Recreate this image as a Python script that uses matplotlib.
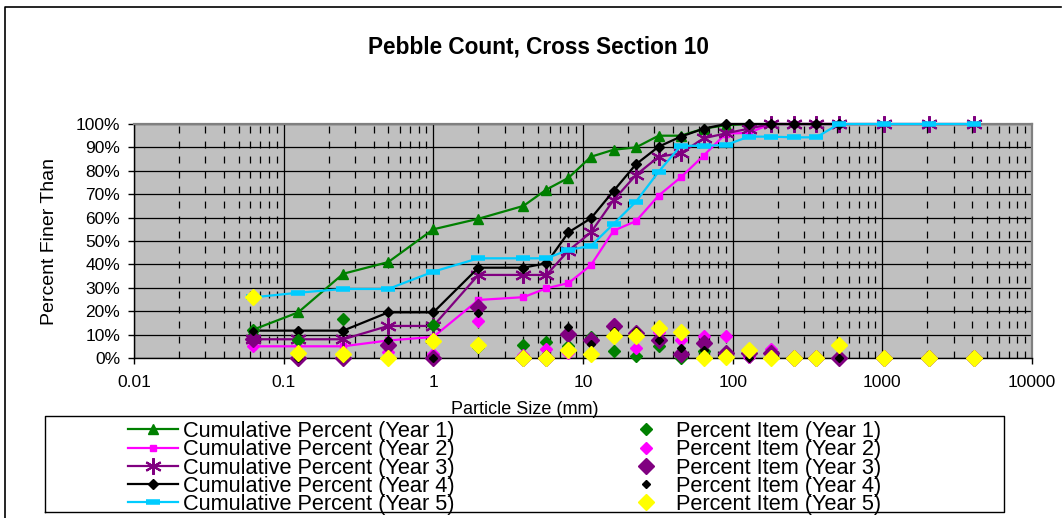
import matplotlib
matplotlib.use("Agg")
import matplotlib.pyplot as plt
from matplotlib.ticker import LogLocator, FixedLocator, FixedFormatter, PercentFormatter, NullFormatter
from matplotlib.lines import Line2D

plt.rcParams['font.family'] = ['Liberation Sans', 'DejaVu Sans']
plt.rcParams['lines.scale_dashes'] = False

# Sieve sizes (mm)
sizes = [0.062, 0.125, 0.25, 0.5, 1, 2, 4, 5.7, 8, 11.3, 16, 22.6, 32, 45, 64,
         90, 128, 180, 256, 362, 512, 1024, 2048, 4096]

# Cumulative percent finer, per survey year
cum_y1 = [12, 19.5, 36, 41, 55, 59.5, 65, 72, 77, 86, 89, 90, 95, 95, 98, 99.5, 100]
cum_y2 = [5, 5, 5, 7.5, 9, 24.8, 26, 29.8, 32, 39.7, 54.4, 58.5, 69.4, 77.2, 86.5,
          95.9, 96.2, 100, 100, 100, 100]
cum_y3 = [8, 8, 8, 13.7, 13.7, 35.5, 35.5, 35.5, 45.9, 53.7, 67.5, 78.2, 86, 87.5,
          93.9, 96, 98, 100, 100, 100, 100, 100, 100, 100]
cum_y4 = [11.7, 11.7, 11.7, 19.5, 19.5, 38.6, 38.6, 40.5, 53.7, 59.7, 71.4, 82.8,
          90.3, 94.6, 98, 100, 100, 100, 100, 100, 100]
cum_y5 = [25.9, 27.9, 29.5, 29.5, 36.9, 42.6, 42.6, 42.6, 46.2, 47.9, 57.3, 66.8,
          79.6, 90.7, 90.7, 91, 94.6, 94.6, 94.3, 94.3, 100, 100, 100, 100]

# Percent of the count in each size class
item_y1 = [12, 7.5, 16.5, 5, 14, 4.5, 5.5, 7, 5, 9, 3, 1, 5, 0, 3, 1.5, 0.5]
item_y2 = [5, 0, 0, 2.5, 1.5, 15.8, 1.2, 3.8, 2.2, 7.7, 14.7, 4.1, 10.9, 7.8, 9.3,
           9.4, 0.3, 3.8, 0, 0, 0]
item_y3 = [8, 0, 0, 5.7, 0, 21.8, 0, 0, 10.4, 7.8, 13.8, 10.7, 7.8, 1.5, 6.4, 2.1,
           2, 2, 0, 0, 0, 0, 0, 0]
item_y4 = [11.7, 0, 0, 7.8, 0, 19.1, 0, 1.9, 13.2, 6, 11.7, 11.4, 7.5, 4.3, 3.4, 2,
           0, 0, 0, 0, 0]
item_y5 = [25.9, 2, 1.6, 0, 7.4, 5.7, 0, 0, 3.6, 1.7, 9.4, 9.5, 12.8, 11.1, 0, 0.3,
           3.6, 0, 0, 0, 5.7, 0, 0, 0]

x_ticks = [0.01, 0.1, 1, 10, 100, 1000, 10000]
x_tick_labels = ["0.01", "0.1", "1", "10", "100", "1000", "10000"]
y_ticks = list(range(0, 101, 10))

W, H = 1062, 518
fig = plt.figure(figsize=(W / 100, H / 100), dpi=100)
fig.patch.set_facecolor("white")

# outer chart border
fig.add_artist(Line2D([5 / W, 5 / W, 1061 / W],
                      [-0.05, 1 - 7 / H, 1 - 7 / H],
                      transform=fig.transFigure, color="black", lw=1.2))

left, right, top, bottom = 134, 1032, 124, 358
ax = fig.add_axes([left / W, 1 - bottom / H, (right - left) / W, (bottom - top) / H])
ax.set_facecolor("#C0C0C0")
ax.set_xscale("log")
ax.set_xlim(0.01, 10000)
ax.set_ylim(0, 100)

ax.xaxis.set_major_locator(FixedLocator(x_ticks))
ax.xaxis.set_major_formatter(FixedFormatter(x_tick_labels))
ax.xaxis.set_minor_locator(LogLocator(base=10, subs=range(2, 10), numticks=100))
ax.xaxis.set_minor_formatter(NullFormatter())
ax.yaxis.set_major_locator(FixedLocator(y_ticks))
ax.yaxis.set_major_formatter(PercentFormatter(decimals=0))

ax.tick_params(axis="both", which="major", direction="out", length=4, width=1,
               color="black", labelsize=12.5, labelcolor="black")
ax.tick_params(axis="y", pad=6)
ax.tick_params(axis="x", pad=8)
ax.tick_params(axis="x", which="minor", length=0)
ax.tick_params(top=False, right=False)

ax.set_axisbelow(True)
ax.grid(which="major", axis="both", color="black", lw=0.9, ls="-")
ax.grid(which="minor", axis="x", color="black", lw=0.9, ls=(0, (5, 5.8)))

for s in ("left", "bottom"):
    ax.spines[s].set_color("black")
    ax.spines[s].set_linewidth(1)
for s in ("top", "right"):
    ax.spines[s].set_color("#808080")
    ax.spines[s].set_linewidth(1.6)

green, magenta, purple, cyan, yellow = "#008000", "#FF00FF", "#800080", "#00CCFF", "#FFFF00"
asterisk = (6, 2, 0)

line_specs = [
    (cum_y1, dict(color=green, marker="^", ms=7, mec=green, mfc=green), "Cumulative Percent (Year 1)"),
    (cum_y2, dict(color=magenta, marker="s", ms=5, mec=magenta, mfc=magenta), "Cumulative Percent (Year 2)"),
    (cum_y3, dict(color=purple, marker=asterisk, ms=12, mew=1.5, mec=purple), "Cumulative Percent (Year 3)"),
    (cum_y4, dict(color="black", marker="D", ms=5, mec="black", mfc="black"), "Cumulative Percent (Year 4)"),
    (cum_y5, dict(color=cyan, marker="_", ms=10, mew=4, mec=cyan), "Cumulative Percent (Year 5)"),
]
line_handles = []
for vals, style, lab in line_specs:
    h, = ax.plot(sizes[:len(vals)], vals, lw=1.6, clip_on=False, zorder=3, label=lab, **style)
    line_handles.append(h)

item_specs = [
    (item_y1, green, 6.5, "Percent Item (Year 1)"),
    (item_y2, magenta, 6.5, "Percent Item (Year 2)"),
    (item_y3, purple, 8, "Percent Item (Year 3)"),
    (item_y4, "black", 4.5, "Percent Item (Year 4)"),
    (item_y5, yellow, 8.5, "Percent Item (Year 5)"),
]
item_handles = []
for vals, col, ms, lab in item_specs:
    h, = ax.plot(sizes[:len(vals)], vals, ls="none", marker="D", ms=ms, mfc=col,
                 mec=col, clip_on=False, zorder=4, label=lab)
    item_handles.append(h)

fig.text(538 / W, 1 - 47 / H, "Pebble Count, Cross Section 10", ha="center", va="center",
         fontsize=16.3, fontweight="bold")
fig.text(50 / W, 1 - 241 / H, "Percent Finer Than", rotation=90, ha="center", va="center",
         fontsize=14)
fig.text(525 / W, 1 - 409 / H, "Particle Size (mm)", ha="center", va="center", fontsize=13)

# legend frame
fig.add_artist(Line2D([45 / W, 45 / W, 1004 / W, 1004 / W, 45 / W],
                      [1 - 512 / H, 1 - 416 / H, 1 - 416 / H, 1 - 512 / H, 1 - 512 / H],
                      transform=fig.transFigure, color="black", lw=1))

leg_kw = dict(frameon=False, fontsize=15.7, borderpad=0, borderaxespad=0,
              labelspacing=-0.125, handletextpad=0.23, handlelength=2.29, loc="upper left")
fig.legend(handles=line_handles, bbox_to_anchor=(128 / W, 1 - 421 / H), **leg_kw)
fig.legend(handles=item_handles, bbox_to_anchor=(621 / W, 1 - 421 / H), **leg_kw)

fig.savefig("out.png", dpi=100)
